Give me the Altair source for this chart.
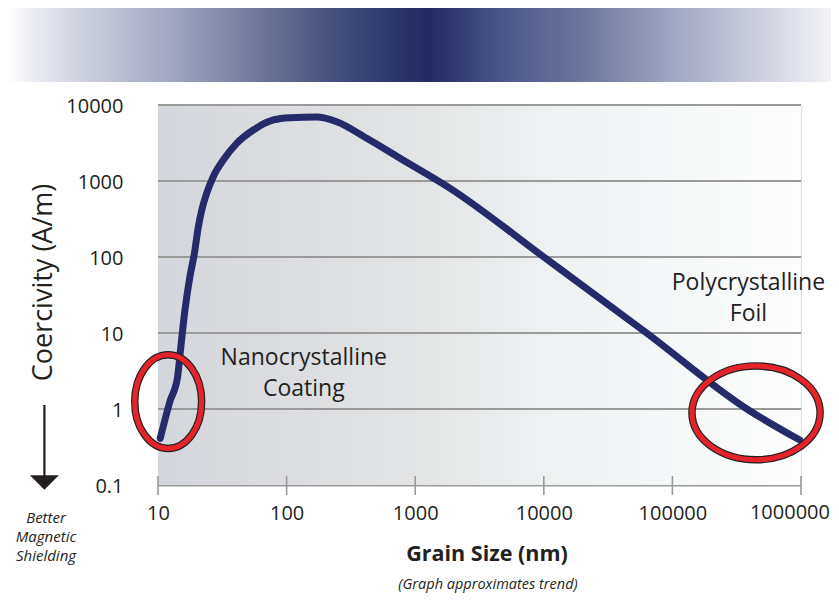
import altair as alt
import pandas as pd

# ---------------- data ----------------
grain_nm = [10.4, 12.4, 14.2, 14.96, 16.2, 17.7, 19.2, 20.6, 21.9, 23.9, 26.9, 32.2,
            40.9, 55.1, 78.9, 106, 171, 245, 420, 762, 1870, 10000, 63000, 380000, 980000]
coercivity = [0.41, 1.27, 2.64, 5.97, 20.1, 55, 112, 251, 415, 689, 1140, 1890,
              3130, 4690, 6350, 6810, 6950, 6030, 3650, 1990, 801, 100, 10, 1, 0.39]

x_tick_values = [10, 100, 1000, 10000, 100000, 1000000]
y_tick_values = [0.1, 1, 10, 100, 1000, 10000]
grid_values = [1, 10, 100, 1000, 10000]

ann_text = ["Nanocrystalline\nCoating", "Polycrystalline\nFoil"]
ann_x = [136, 390000]
ann_y = [3.79, 36.8]

ell_x = [12.0, 447000]
ell_y = [1.25, 0.89]
ell_ratio = [0.713, 1.366]   # width / height of each ring

note_lines = ["Better", "Magnetic", "Shielding"]

W, H = 643, 380
FONT = "Open Sans"
INK = "#231f20"
NAVY = "#252a6b"
GRID = "#9a9a9a"

curve = pd.DataFrame({"grain": grain_nm, "coer": coercivity})
ticks = pd.DataFrame({"grain": x_tick_values})
last_label = pd.DataFrame({"grain": [x_tick_values[-1]], "label": [str(x_tick_values[-1])]})
grid = pd.DataFrame({"coer": grid_values})
ann = pd.DataFrame({"grain": ann_x, "coer": ann_y, "label": ann_text})
notes = pd.DataFrame({"line": note_lines, "row": list(range(len(note_lines)))})


def ellipse_path(a):
    return f"M {-a} 0 A {a} 1 0 1 0 {a} 0 A {a} 1 0 1 0 {-a} 0 Z"


ells = pd.DataFrame({"grain": ell_x, "coer": ell_y,
                     "shape": [ellipse_path(r) for r in ell_ratio]})
one = pd.DataFrame({"a": [0]})

xscale = alt.Scale(type="log", domain=[10, 1000000], nice=False)
yscale = alt.Scale(type="log", domain=[0.1, 10000], nice=False)

xaxis = alt.Axis(values=x_tick_values,
                 labelExpr="datum.value >= 1000000 ? '' : format(datum.value, 'd')",
                 title=None, grid=False, ticks=False, domainColor=GRID, domainWidth=2,
                 labelFont=FONT, labelFontSize=20, labelColor=INK, labelPadding=18,
                 labelFlush=False, labelOverlap=False)
yaxis = alt.Axis(values=y_tick_values,
                 labelExpr="datum.value < 1 ? format(datum.value, '.1f') : format(datum.value, 'd')",
                 title=None, grid=False, domain=False,
                 ticks=False, labelFont=FONT, labelFontSize=20, labelColor=INK,
                 labelPadding=35, labelBaseline="middle", labelOffset=1, labelFlush=False,
                 labelOverlap=False)

X = alt.X("grain:Q", scale=xscale, axis=xaxis)
Y = alt.Y("coer:Q", scale=yscale, axis=yaxis)

# plot-area background gradient
bg = alt.Chart(one).mark_rect(fill={
    "gradient": "linear", "x1": 0, "x2": 1, "y1": 0, "y2": 0,
    "stops": [
        {"offset": 0.0, "color": "#d3d6dc"},
        {"offset": 0.2, "color": "#dcdde0"},
        {"offset": 0.4, "color": "#e3e4e5"},
        {"offset": 0.6, "color": "#edf1f1"},
        {"offset": 0.8, "color": "#f5f8f8"},
        {"offset": 1.0, "color": "#fdfdfd"},
    ]}).encode(x=alt.value(0), x2=alt.value(W), y=alt.value(0), y2=alt.value(H))

# top banner
banner = alt.Chart(one).mark_rect(fill={
    "gradient": "linear", "x1": 0, "x2": 1, "y1": 0, "y2": 0,
    "stops": [
        {"offset": 0.0, "color": "#ffffff"},
        {"offset": 0.04, "color": "#e6e8ef"},
        {"offset": 0.11, "color": "#c4c8d7"},
        {"offset": 0.19, "color": "#a5aac3"},
        {"offset": 0.31, "color": "#6d7499"},
        {"offset": 0.41, "color": "#3f4a7b"},
        {"offset": 0.51, "color": "#222a62"},
        {"offset": 0.6, "color": "#4b568a"},
        {"offset": 0.7, "color": "#6e76a0"},
        {"offset": 0.83, "color": "#aab0c8"},
        {"offset": 0.92, "color": "#d0d3e0"},
        {"offset": 1.0, "color": "#f3f3f7"},
    ]}).encode(x=alt.value(-150), x2=alt.value(673), y=alt.value(-100), y2=alt.value(-23))

gridlines = alt.Chart(grid).mark_rule(color=GRID, strokeWidth=2).encode(
    y=Y, x=alt.value(0), x2=alt.value(W))

line = alt.Chart(curve).mark_line(color=NAVY, strokeWidth=7, interpolate="monotone",
                                  strokeCap="round", strokeJoin="round").encode(x=X, y=Y)

tick_rules = alt.Chart(ticks).mark_rule(color=GRID, strokeWidth=1.6).encode(
    x=X, y=alt.value(H - 9), y2=alt.value(H + 10),
)

last_tick_label = alt.Chart(last_label).mark_text(
    font=FONT, fontSize=20, color=INK, align="right", baseline="top", dx=29).encode(
    x=X, y=alt.value(H + 18), text="label:N")

ell_black = alt.Chart(ells).mark_point(filled=False, stroke="#231f20", strokeWidth=7.5,
                                       opacity=1, size=8800).encode(
    x=X, y=Y, shape=alt.Shape("shape:N", scale=None, legend=None),
)
ell_red = alt.Chart(ells).mark_point(filled=False, stroke="#e4232b", strokeWidth=5.2,
                                     opacity=1, size=8800).encode(
    x=X, y=Y, shape=alt.Shape("shape:N", scale=None, legend=None),
)

annot = alt.Chart(ann).mark_text(font=FONT, fontSize=23, color=INK, align="center",
                                 baseline="alphabetic", lineBreak="\n", lineHeight=31).encode(
    x=X, y=Y, text="label:N",
)

ytitle = alt.Chart(one).mark_text(text="Coercivity (A/m)", font=FONT, fontSize=27, color=INK,
                                  angle=270, align="center", baseline="alphabetic").encode(
    x=alt.value(-106), y=alt.value(177.5))

arrow_line = alt.Chart(one).mark_rule(color=INK, strokeWidth=2.2).encode(
    x=alt.value(-113.6), y=alt.value(300), y2=alt.value(372))
arrow_head = alt.Chart(one).mark_point(shape="M -1 -0.5 L 1 -0.5 L 0 0.5 Z", filled=True,
                                       fill=INK, stroke=None, opacity=1, size=841).encode(
    x=alt.value(-113.6), y=alt.value(377.5))

# "Better / Magnetic / Shielding" as three separate lines (19 px apart)
better = alt.Chart(notes).transform_calculate(
    ypix=f"{H + 33} + datum.row * 19"
).mark_text(font=FONT, fontSize=15, fontStyle="italic", color=INK, align="center",
            baseline="middle").encode(
    x=alt.value(-112),
    y=alt.Y("ypix:Q", scale=None, axis=None),
    text="line:N",
)

xtitle = alt.Chart(one).mark_text(text="Grain Size (nm)", font=FONT, fontSize=21.5,
                                  fontWeight="bold", color=INK, align="center",
                                  baseline="middle").encode(
    x=alt.value(329), y=alt.value(450))

caption = alt.Chart(one).mark_text(text="(Graph approximates trend)", font=FONT, fontSize=14.5,
                                   fontStyle="italic", color=INK, align="center",
                                   baseline="middle").encode(
    x=alt.value(330), y=alt.value(480))

chart = alt.layer(
    banner, bg, gridlines, line, tick_rules, last_tick_label, ell_black, ell_red, annot,
    ytitle, arrow_line, arrow_head, better, xtitle, caption,
).properties(
    width=W, height=H,
    autosize=alt.AutoSizeParams(type="none"),
    padding={"left": 150, "top": 97, "right": 30, "bottom": 110},
).configure_view(stroke=None).configure(background="white")

chart.save("out.html", embed_options={"renderer": "svg", "actions": False})
